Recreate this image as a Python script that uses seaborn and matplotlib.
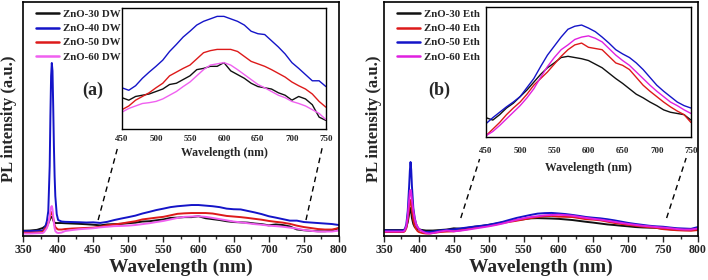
import pandas as pd
import matplotlib.pyplot as plt
import seaborn as sns
from matplotlib.ticker import MultipleLocator

sns.set_style("ticks")
plt.rcParams['font.family'] = ['Liberation Serif', 'DejaVu Serif']
plt.rcParams['font.weight'] = 'bold'
plt.rcParams['axes.labelweight'] = 'bold'

# ---------------- panel (a): DW samples ----------------
wl_a = [350, 360, 370, 378, 380, 382, 384, 386, 388, 389, 390, 391, 392, 393, 394, 395, 396, 398, 400,
        405, 410, 420, 430, 440,
        450, 460, 470, 480, 490, 500, 510, 520, 530, 540, 550, 560, 570, 580, 590, 600,
        610, 620, 630, 640, 650, 660, 670, 680, 690, 700, 710, 720, 730, 740, 750,
        760, 770, 780, 790, 800]
zno30_dw = [5.3, 5.5, 6.2, 8, 9, 10, 11, 13, 16, 18, 19, 19, 18, 16, 14.5, 13.5, 13, 13, 13,
            13, 12.8, 12.5, 12.2, 11.8,
            11.3, 10.7, 11.6, 11.9, 12.2, 12.8, 13.4, 14.5, 14.8, 15.7, 16.6, 18.1, 18.4, 18.9, 18.9, 19.8,
            17.8, 16.9, 16.0, 14.8, 14.0, 13.7, 13.4, 12.5, 11.9, 10.7, 11.6, 11.0, 9.6, 6.6, 5.8,
            5.2, 4.8, 4.8, 5.5, 8]
zno40_dw = [5, 5, 5.2, 5.5, 7, 10, 15, 25, 70, 120, 160, 173, 165, 130, 90, 60, 40, 22, 16,
            14.5, 14.2, 14, 13.8, 13.5,
            13.7, 13.1, 14.2, 16.0, 17.5, 18.9, 20.4, 22.5, 24.2, 26.0, 27.4, 28.9, 29.8, 30.4, 31.0, 31.0,
            30.4, 29.8, 28.9, 27.4, 26.8, 26.6, 25.1, 23.6, 21.9, 19.8, 18.4, 16.9, 15.4, 15.4, 14.0,
            13.5, 13, 12.5, 12, 11]
zno50_dw = [3.3, 3.3, 3.5, 4, 6, 8, 9, 13, 18, 21, 23, 24, 22, 18, 14, 11, 9, 7.5, 6.5,
            6.5, 7, 7.5, 7.8, 8.1,
            8.4, 9.3, 10.7, 11.6, 12.5, 13.7, 14.8, 16.6, 17.5, 18.4, 19.2, 20.7, 22.2, 22.7, 23.0, 23.0,
            23.0, 22.5, 21.3, 20.1, 19.5, 18.9, 18.1, 17.2, 16.3, 15.1, 14.2, 13.4, 12.2, 10.4, 9.0,
            8, 7, 6.5, 6.5, 8]
zno60_dw = [2.5, 2.5, 2.8, 3, 4, 6, 8, 12, 20, 26, 29, 30, 27, 20, 13, 8, 5, 3.5, 3,
            3.5, 5, 6, 6.8, 7.3,
            7.8, 8.7, 9.3, 9.9, 10.1, 10.4, 11.0, 11.9, 12.8, 14.0, 15.1, 16.6, 18.1, 19.2, 19.5, 19.8,
            19.2, 18.1, 16.9, 15.7, 14.5, 13.7, 12.8, 11.9, 11.3, 10.4, 9.9, 9.3, 8.4, 7.5, 6.0,
            5.2, 4.5, 4.5, 4.5, 5.5]

# ---------------- panel (b): Eth samples ----------------
wl_b = [350, 360, 370, 378, 380, 382, 384, 386, 387, 388, 389, 390, 392, 394, 396, 398, 400,
        405, 410, 415, 420, 430, 440,
        450, 460, 470, 480, 490, 500, 510, 520, 530, 540, 550, 560, 570, 580, 590, 600,
        610, 620, 630, 640, 650, 660, 670, 680, 690, 700, 710, 720, 730, 740, 750,
        760, 770, 780, 790, 800]
zno30_eth = [6, 6, 6, 6, 7, 9, 14, 22, 26, 28, 24, 18, 12, 9, 7.5, 7, 6.5,
             6, 5.5, 5.5, 5.5, 6, 6.5,
             7.7, 7.3, 8.2, 9.3, 10.1, 11.2, 12.3, 13.6, 14.9, 16.0, 16.8, 17.7, 17.9, 17.7, 17.5, 17.2,
             16.6, 16.0, 15.1, 14.2, 13.4, 12.5, 11.6, 11.0, 10.3, 9.7, 9.0, 8.6, 8.4, 8.2, 7.3,
             6.8, 6.3, 6, 6, 6.5]
zno40_eth = [4, 4, 4, 4, 5, 8, 16, 28, 34, 36, 33, 26, 16, 10, 7, 5, 4,
             3, 2.5, 2.5, 3, 4, 4.5,
             4.7, 5.8, 6.9, 8.2, 9.3, 10.3, 11.6, 13.1, 14.2, 15.3, 16.6, 17.9, 19.0, 19.8, 20.1, 19.4,
             19.2, 19.0, 17.9, 16.8, 16.4, 15.7, 14.4, 13.1, 12.1, 11.2, 10.3, 9.5, 8.8, 8.2, 6.9,
             6.3, 5.8, 5.5, 5.3, 6]
zno50_eth = [5.5, 5.5, 5.5, 5.5, 7, 12, 25, 50, 65, 74, 66, 50, 28, 18, 12, 9, 7,
             5, 4, 4, 4.5, 5.5, 6.2,
             6.7, 7.7, 8.6, 9.5, 10.3, 11.2, 12.7, 14.2, 16.2, 18.1, 19.6, 21.1, 22.4, 22.9, 23.1, 22.6,
             22.0, 21.1, 20.1, 19.0, 18.3, 17.7, 16.8, 15.7, 14.4, 13.1, 12.1, 11.2, 10.3, 9.7, 9.3,
             8.5, 7.8, 7.5, 7.2, 9]
zno60_eth = [4.5, 4.5, 4.5, 4.5, 6, 10, 20, 36, 44, 46, 43, 36, 25, 17, 12, 9, 7,
             4.5, 3, 2.5, 3, 4.5, 5.5,
             4.7, 5.4, 6.4, 7.5, 8.6, 9.7, 11.0, 12.5, 14.4, 16.2, 17.7, 19.0, 19.8, 20.7, 21.1, 21.3,
             20.9, 20.3, 19.2, 18.1, 17.2, 16.4, 15.3, 14.2, 13.1, 12.1, 11.2, 10.3, 9.7, 9.0, 8.4,
             7.8, 7, 6.5, 6.5, 7.5]

labels_a = ['ZnO-30 DW', 'ZnO-40 DW', 'ZnO-50 DW', 'ZnO-60 DW']
labels_b = ['ZnO-30 Eth', 'ZnO-40 Eth', 'ZnO-50 Eth', 'ZnO-60 Eth']
colors_a = ['#111111', '#1414c8', '#dd1a1a', '#f060f0']
colors_b = ['#111111', '#dd1a1a', '#1414c8', '#e020e0']


def long_df(wl, series, labels):
    frames = [pd.DataFrame({'wl': wl, 'I': s, 'sample': lab}) for s, lab in zip(series, labels)]
    return pd.concat(frames, ignore_index=True)


df_a = long_df(wl_a, [zno30_dw, zno40_dw, zno50_dw, zno60_dw], labels_a)
df_b = long_df(wl_b, [zno30_eth, zno40_eth, zno50_eth, zno60_eth], labels_b)

fig = plt.figure(figsize=(7.08, 2.80), dpi=100)
ax_a = fig.add_axes([0.0325, 0.157, 0.4463, 0.836])
ax_b = fig.add_axes([0.5424, 0.157, 0.4435, 0.836])
in_a = fig.add_axes([0.1723, 0.539, 0.288, 0.432])
in_b = fig.add_axes([0.6864, 0.511, 0.2895, 0.464])

# (main ax, inset, data, labels, colours, inset ylim, tag, tag x, dashed guides, ylabel x, inset tick pad, inset label pad)
panels = [
    (ax_a, in_a, df_a, labels_a, colors_a, (3.7, 33), '(a)', 450,
     [(457, 16, 485, 89), (753, 16, 776, 88)], -0.018, 4.5, 3),
    (ax_b, in_b, df_b, labels_b, colors_b, (4.5, 26.1), '(b)', 429,
     [(460, 18, 487, 77), (755, 18, 783, 78)], -0.008, 7, 5),
]

for ax, ins, df, labs, cols, inlim, tag, tagx, dashes, ylab_x, tpad, lpad in panels:
    pal = dict(zip(labs, cols))
    sns.lineplot(data=df, x='wl', y='I', hue='sample', hue_order=labs, palette=pal,
                 lw=1.4, ax=ax, legend=True)
    ax.set_xlim(350, 800)
    ax.set_ylim(0, 234)
    ax.set_yticks([])
    ax.xaxis.set_major_locator(MultipleLocator(50))
    ax.xaxis.set_minor_locator(MultipleLocator(25))
    ax.tick_params(axis='x', which='major', direction='out', length=4, width=1, labelsize=8.5, pad=2)
    ax.tick_params(axis='x', which='minor', direction='out', length=2.5, width=1)
    for lab in ax.get_xticklabels():
        lab.set_fontweight('bold')
    ax.set_xlabel('Wavelength (nm)', fontsize=14, fontweight='bold', labelpad=2)
    ax.set_ylabel('PL intensity (a.u.)', fontsize=12, fontweight='bold')
    ax.yaxis.set_label_coords(ylab_x, 0.5)
    for sp in ax.spines.values():
        sp.set_linewidth(1.2)
        sp.set_color('black')

    h, l = ax.get_legend_handles_labels()
    leg = ax.legend(h, l, loc='upper left', bbox_to_anchor=(0.02, 0.995), frameon=False,
                    fontsize=7.8, handlelength=2.1, labelspacing=0.42, handletextpad=0.4,
                    borderaxespad=0.2)
    for t in leg.get_texts():
        t.set_fontweight('bold')
    for ln in leg.get_lines():
        ln.set_linewidth(1.8)

    ax.text(tagx, 146, tag, ha='center', va='center', fontsize=13, fontweight='bold')

    for x0, y0, x1, y1 in dashes:
        ax.plot([x0, x1], [y0, y1], color='black', lw=1, ls=(0, (4, 3)))

    sub = df[(df['wl'] >= 450) & (df['wl'] <= 750)]
    sns.lineplot(data=sub, x='wl', y='I', hue='sample', hue_order=labs, palette=pal,
                 lw=1.0, ax=ins, legend=False)
    ins.set_xlim(450, 750)
    ins.set_ylim(*inlim)
    ins.set_yticks([])
    ins.set_xticks(range(450, 751, 50))
    ins.tick_params(axis='x', length=0, labelsize=6.5, pad=tpad)
    for lab in ins.get_xticklabels():
        lab.set_fontweight('bold')
    ins.set_xlabel('Wavelength (nm)', fontsize=8.5, fontweight='bold', labelpad=lpad)
    ins.set_ylabel('')
    for sp in ins.spines.values():
        sp.set_linewidth(1.0)
        sp.set_color('black')

fig.savefig('out.png', dpi=100)
